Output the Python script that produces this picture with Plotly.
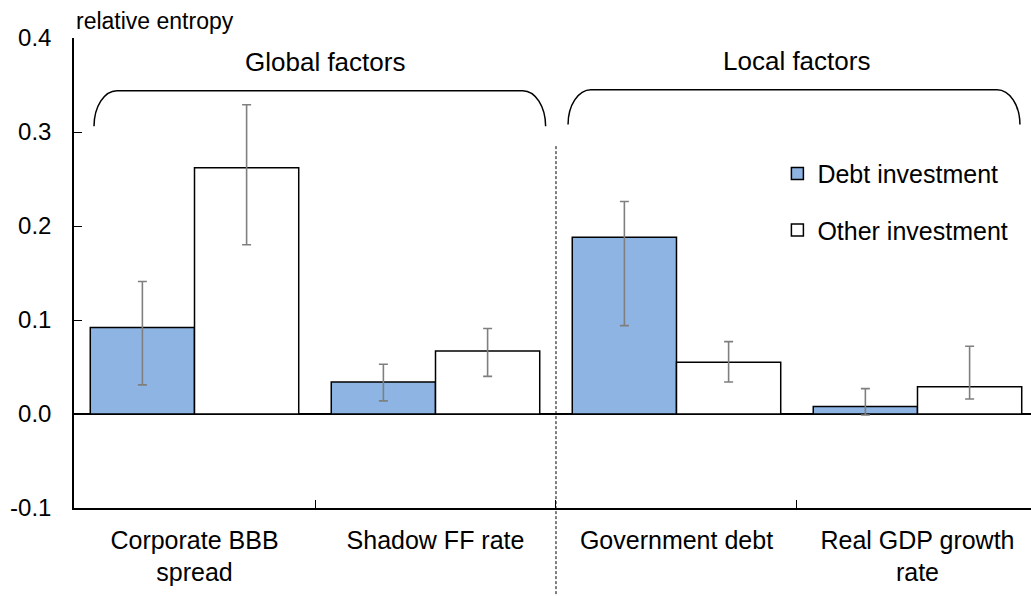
import plotly.graph_objects as go

# Relative entropy by factor, with confidence bands
categories = ["Corporate BBB<br>spread", "Shadow FF rate", "Government debt", "Real GDP growth<br>rate"]
debt_values = [0.092, 0.034, 0.188, 0.008]
debt_upper = [0.141, 0.053, 0.226, 0.027]
debt_lower = [0.031, 0.014, 0.094, -0.001]
other_values = [0.262, 0.067, 0.055, 0.029]
other_upper = [0.329, 0.091, 0.077, 0.072]
other_lower = [0.180, 0.040, 0.034, 0.016]
y_ticks = [-0.1, 0.0, 0.1, 0.2, 0.3, 0.4]
y_ticktext = [f"{v:.1f}" for v in y_ticks]

FONT = "Liberation Sans, Arial, sans-serif"
X_RANGE = [-0.5, 3.471]
Y_RANGE = [-0.1, 0.4]


def err(vals, up, lo):
    return dict(
        type="data", symmetric=False,
        array=[u - v for u, v in zip(up, vals)],
        arrayminus=[v - l for v, l in zip(vals, lo)],
        color="#7f7f7f", thickness=1.6, width=4.5,
    )


fig = go.Figure()
fig.add_trace(go.Bar(
    x=categories, y=debt_values, name="Debt investment",
    marker=dict(color="#8EB4E3", line=dict(color="black", width=1.5)),
    error_y=err(debt_values, debt_upper, debt_lower),
    legendgroup="a",
))
fig.add_trace(go.Bar(
    x=categories, y=other_values, name="Other investment",
    marker=dict(color="white", line=dict(color="black", width=1.5)),
    error_y=err(other_values, other_upper, other_lower),
    legendgroup="b",
))


def px(x):
    return (x - X_RANGE[0]) / (X_RANGE[1] - X_RANGE[0])


def py(y):
    return (y - Y_RANGE[0]) / (Y_RANGE[1] - Y_RANGE[0])


def bracket(x0, x1, yb, yt, dx, dy):
    k = 0.552
    pts = [
        f"M{px(x0)},{py(yb)}",
        f"C{px(x0)},{py(yb + dy * k)} {px(x0 + dx * (1 - k))},{py(yt)} {px(x0 + dx)},{py(yt)}",
        f"L{px(x1 - dx)},{py(yt)}",
        f"C{px(x1 - dx * (1 - k))},{py(yt)} {px(x1)},{py(yb + dy * k)} {px(x1)},{py(yb)}",
    ]
    return dict(type="path", xref="paper", yref="paper", path=" ".join(pts),
                line=dict(color="black", width=1.5))


shapes = [
    bracket(-0.417, 1.457, 0.306, 0.344, 0.095, 0.038),
    bracket(1.55, 3.425, 0.308, 0.345, 0.095, 0.037),
    dict(type="line", xref="x", yref="paper", x0=1.5, x1=1.5, y0=py(0.285), y1=-0.19,
         line=dict(color="black", width=1, dash="3px,2px")),
]

annotations = [
    dict(text="relative entropy", xref="paper", yref="paper", x=0.0, y=1.005,
         xanchor="left", yanchor="bottom", showarrow=False, font=dict(size=23)),
    dict(text="Global factors", xref="x", yref="y", x=0.54, y=0.374,
         xanchor="center", yanchor="middle", showarrow=False, font=dict(size=26)),
    dict(text="Local factors", xref="x", yref="y", x=2.5, y=0.376,
         xanchor="center", yanchor="middle", showarrow=False, font=dict(size=26)),
]

fig.update_layout(
    width=1031, height=596,
    margin=dict(l=74, r=0, t=38, b=88),
    paper_bgcolor="white", plot_bgcolor="white",
    font=dict(family=FONT, size=24, color="black"),
    barmode="group", bargap=0.135, bargroupgap=0,
    showlegend=True,
    legend=dict(x=0.735, y=0.76, xanchor="left", yanchor="top",
                font=dict(size=25), tracegroupgap=21, traceorder="grouped",
                bgcolor="rgba(0,0,0,0)"),
    shapes=shapes, annotations=annotations,
)
fig.update_xaxes(
    type="category", range=X_RANGE, tickson="boundaries",
    ticks="inside", ticklen=8, tickcolor="black", tickwidth=1,
    showline=True, linecolor="black", linewidth=1.5, mirror=False,
    showgrid=False, tickfont=dict(size=25), ticklabelstandoff=9,
)
fig.update_yaxes(
    range=Y_RANGE, tickvals=y_ticks, ticktext=y_ticktext,
    ticks="inside", ticklen=8, tickcolor="black", tickwidth=1,
    showline=True, linecolor="black", linewidth=1.5,
    showgrid=False, zeroline=True, zerolinecolor="black", zerolinewidth=1.5,
    tickfont=dict(size=24), ticklabelstandoff=16,
)

fig.write_html("out.html")
